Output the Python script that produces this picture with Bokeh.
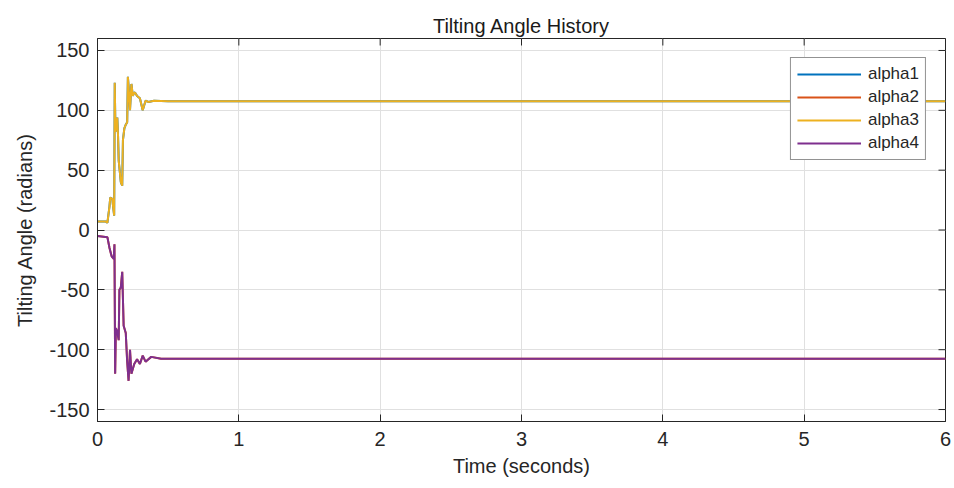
import math
from bokeh.plotting import figure
from bokeh.models import Legend, LegendItem, FixedTicker, Range1d
from bokeh.embed import file_html
from bokeh.resources import INLINE

# --- data ---
t_a3 = [0, 0.06, 0.07, 0.085, 0.09, 0.105, 0.11, 0.118, 0.122, 0.127, 0.13, 0.14, 0.145,
        0.15, 0.155, 0.165, 0.175, 0.18, 0.19, 0.2, 0.21, 0.215, 0.22, 0.23, 0.24, 0.25,
        0.26, 0.27, 0.28, 0.3, 0.32, 0.33, 0.34, 0.36, 0.4, 0.5, 0.7, 1.0, 2.0, 3.0, 4.0, 5.0, 6.0]
alpha3 = [7, 7, 6, 20, 27, 26, 20, 12, 123, 82, 84, 94, 80,
          58, 52, 40, 37, 75, 85, 88, 90, 128, 120, 100, 122, 112,
          115, 114, 112, 110, 100, 104, 108, 107, 108, 107.5, 107.5, 107.5, 107.5, 107.5, 107.5, 107.5, 107.5]
t_a4 = [0, 0.07, 0.085, 0.1, 0.115, 0.12, 0.125, 0.13, 0.14, 0.15, 0.155, 0.165, 0.175,
        0.185, 0.2, 0.21, 0.22, 0.23, 0.24, 0.26, 0.28, 0.3, 0.32, 0.34, 0.38, 0.45,
        1.0, 2.0, 3.0, 4.0, 5.0, 6.0]
alpha4 = [-5, -6, -15, -22, -24, -12, -120, -82, -85, -92, -50, -48, -35,
          -80, -86, -110, -126, -100, -120, -112, -108, -112, -105, -110, -106, -107.5,
          -107.5, -107.5, -107.5, -107.5, -107.5, -107.5]
# alpha1 / alpha2 coincide with alpha3 / alpha4 (hidden beneath them)
alpha1 = list(alpha3)
alpha2 = list(alpha4)

series_names = ["alpha1", "alpha2", "alpha3", "alpha4"]
colors = ["#0072BD", "#D95319", "#EDB120", "#7E2F8E"]
x_ticks = [0, 1, 2, 3, 4, 5, 6]
y_ticks = [-150, -100, -50, 0, 50, 100, 150]
x_lim = (0, 6)
y_lim = (-160, 160)

FONT = "Liberation Sans"
INK = "#262626"

p = figure(width=954, height=488, output_backend="svg", toolbar_location=None,
           x_range=Range1d(*x_lim), y_range=Range1d(*y_lim),
           title="Tilting Angle History",
           min_border_left=97, min_border_right=9, min_border_top=38, min_border_bottom=67)

p.title.align = "center"
p.title.text_font = FONT
p.title.text_font_size = "20px"
p.title.text_font_style = "normal"
p.title.text_color = "#1a1a1a"
p.title.standoff = 4

p.outline_line_color = INK
p.outline_line_width = 1
p.background_fill_color = "white"
p.border_fill_color = "white"

for ax in (p.xaxis[0], p.yaxis[0]):
    ax.major_tick_in = 7
    ax.major_tick_out = 0
    ax.minor_tick_in = 0
    ax.minor_tick_out = 0
    ax.axis_line_color = INK
    ax.major_tick_line_color = INK
    ax.major_label_text_font = FONT
    ax.major_label_text_font_size = "20px"
    ax.major_label_text_color = INK
    ax.axis_label_text_font = FONT
    ax.axis_label_text_font_size = "20px"
    ax.axis_label_text_font_style = "normal"
    ax.axis_label_text_color = INK

p.xaxis.ticker = FixedTicker(ticks=x_ticks)
p.yaxis.ticker = FixedTicker(ticks=y_ticks)
p.yaxis.major_label_overrides = {v: str(v) for v in y_ticks}
p.xaxis.axis_label = "Time (seconds)"
p.yaxis.axis_label = "Tilting Angle (radians)"
p.xaxis.major_label_standoff = 10
p.yaxis.major_label_standoff = 8
p.xaxis.axis_label_standoff = 6
p.yaxis.axis_label_standoff = 10

p.grid.grid_line_color = "#e0e0e0"
p.grid.grid_line_width = 1

# mirrored ticks on the top and right edges (clipped half of a dash marker)
p.scatter([x_lim[1]] * len(y_ticks), y_ticks, marker="dash", size=14,
          line_color=INK, line_width=1)
p.scatter(x_ticks, [y_lim[1]] * len(x_ticks), marker="dash", size=14, angle=math.pi / 2,
          line_color=INK, line_width=1)

xs = [t_a3, t_a4, t_a3, t_a4]
ys = [alpha1, alpha2, alpha3, alpha4]
renderers = []
for name, c, x, y in zip(series_names, colors, xs, ys):
    r = p.line(x, y, line_color=c, line_width=2)
    renderers.append(r)

legend = Legend(items=[LegendItem(label=n, renderers=[r]) for n, r in zip(series_names, renderers)],
                location="top_right")
legend.margin = 19
legend.border_line_color = INK
legend.border_line_width = 1
legend.background_fill_alpha = 1
legend.label_text_font = FONT
legend.label_text_font_size = "17px"
legend.label_text_color = INK
legend.glyph_width = 64
legend.glyph_height = 20
legend.label_height = 20
legend.spacing = 3
legend.padding = 6
legend.label_standoff = 7
p.add_layout(legend, "center")

open("out.html", "w").write(file_html(p, INLINE))
